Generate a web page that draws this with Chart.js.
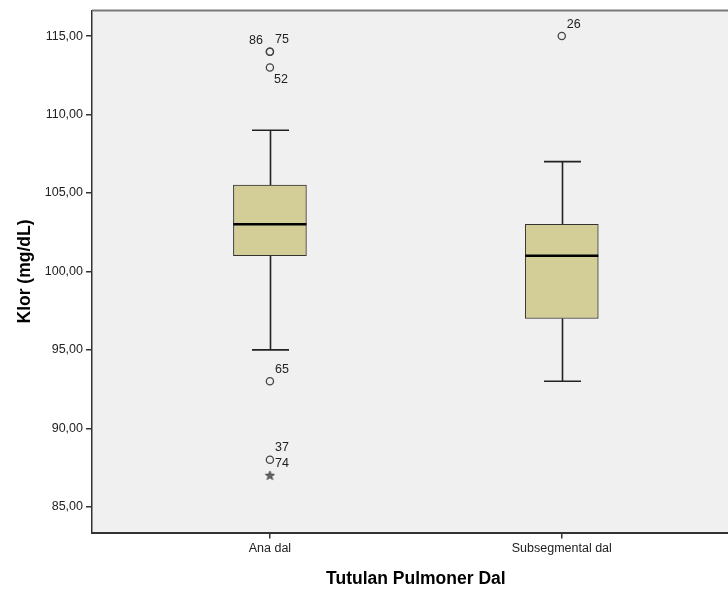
<!DOCTYPE html>
<html>
<head>
<meta charset="utf-8">
<title>Klor (mg/dL) - Tutulan Pulmoner Dal</title>
<script src="https://cdn.jsdelivr.net/npm/chart.js@4.4.1/dist/chart.umd.min.js"></script>
<style>
  html, body { margin: 0; padding: 0; background: #ffffff; overflow: hidden; width: 728px; height: 592px; }
  canvas { display: block; }
</style>
</head>
<body>
<canvas id="chart" width="745" height="592"></canvas>
<script>
// ---- Data ----
const categories   = ['Ana dal', 'Subsegmental dal'];
const whiskerLow   = [95, 93];
const q1           = [101, 97];
const median       = [103, 101];
const q3           = [105.5, 103];
const whiskerHigh  = [109, 107];

// outliers (circles): group index, value, case number
const outlierGroup = [0, 0, 0, 0, 0, 1];
const outlierValue = [114, 114, 113, 93, 88, 115];
const outlierCase  = ['86', '75', '52', '65', '37', '26'];

// extreme values (stars)
const extremeGroup = [0];
const extremeValue = [87];
const extremeCase  = ['74'];

const yTicks = [85, 90, 95, 100, 105, 110, 115];

// ---- Styling ----
const FONT = '"Liberation Sans", Arial, Helvetica, sans-serif';
const outlierLabelSide = ['nw', 'ne', 'se', 'ne', 'ne', 'ne'];
const extremeLabelSide = ['ne'];
const labelOffset = { ne: [12, -12], nw: [-14, -11], se: [11, 12] };

const fmtComma = v => Number(v).toFixed(2).replace('.', ',');

// five-pointed star marker for extreme values
function makeStar() {
  const c = document.createElement('canvas');
  c.width = 11; c.height = 11;
  const g = c.getContext('2d');
  g.beginPath();
  for (let k = 0; k < 10; k++) {
    const r = k % 2 === 0 ? 4.8 : 1.9;
    const a = -Math.PI / 2 + k * Math.PI / 5;
    const px = 5.5 + r * Math.cos(a), py = 5.8 + r * Math.sin(a);
    if (k === 0) g.moveTo(px, py); else g.lineTo(px, py);
  }
  g.closePath();
  g.fillStyle = '#666';
  g.fill();
  g.strokeStyle = '#333';
  g.lineWidth = 0.8;
  g.stroke();
  return c;
}

const boxData     = categories.map((c, i) => ({ x: i + 1, y: [q1[i], q3[i]] }));
const outlierData = outlierValue.map((v, i) => ({ x: outlierGroup[i] + 1, y: v }));
const extremeData = extremeValue.map((v, i) => ({ x: extremeGroup[i] + 1, y: v }));

// plot background and top frame line
const plotFrame = {
  id: 'plotFrame',
  beforeDraw(chart) {
    const { ctx, chartArea: a } = chart;
    ctx.save();
    ctx.fillStyle = '#f0f0f0';
    ctx.fillRect(a.left, a.top, a.right - a.left, a.bottom - a.top);
    ctx.restore();
  },
  afterDraw(chart) {
    const { ctx, chartArea: a } = chart;
    ctx.save();
    ctx.strokeStyle = '#7a7a7a';
    ctx.lineWidth = 2;
    ctx.beginPath();
    ctx.moveTo(a.left, a.top);
    ctx.lineTo(a.right, a.top);
    ctx.stroke();
    ctx.restore();
  }
};

// whiskers, caps, medians and case labels
const boxParts = {
  id: 'boxParts',
  beforeDatasetsDraw(chart) {
    const { ctx, scales: { x, y } } = chart;
    const capHalf = 18.5;
    ctx.save();
    ctx.strokeStyle = '#222';
    ctx.lineWidth = 1.6;
    categories.forEach((c, i) => {
      const px = Math.round(x.getPixelForValue(i + 1)) + 0.5;
      [[q3[i], whiskerHigh[i]], [q1[i], whiskerLow[i]]].forEach(([from, to]) => {
        const y0 = y.getPixelForValue(from), y1 = y.getPixelForValue(to);
        ctx.beginPath();
        ctx.moveTo(px, y0);
        ctx.lineTo(px, y1);
        ctx.moveTo(px - capHalf, y1);
        ctx.lineTo(px + capHalf, y1);
        ctx.stroke();
      });
    });
    ctx.restore();
  },
  afterDatasetsDraw(chart) {
    const { ctx, scales: { x, y } } = chart;
    const bars = chart.getDatasetMeta(0).data;
    ctx.save();
    ctx.strokeStyle = '#000';
    ctx.lineWidth = 2.5;
    categories.forEach((c, i) => {
      const bar = bars[i];
      const py = y.getPixelForValue(median[i]);
      ctx.beginPath();
      ctx.moveTo(bar.x - bar.width / 2, py);
      ctx.lineTo(bar.x + bar.width / 2, py);
      ctx.stroke();
    });

    ctx.fillStyle = '#222';
    ctx.font = '12.5px ' + FONT;
    ctx.textAlign = 'center';
    ctx.textBaseline = 'middle';
    const put = (g, v, txt, side) => {
      const [dx, dy] = labelOffset[side];
      ctx.fillText(txt, x.getPixelForValue(g + 1) + dx, y.getPixelForValue(v) + dy);
    };
    outlierValue.forEach((v, i) => put(outlierGroup[i], v, outlierCase[i], outlierLabelSide[i]));
    extremeValue.forEach((v, i) => put(extremeGroup[i], v, extremeCase[i], extremeLabelSide[i]));
    ctx.restore();
  }
};

new Chart(document.getElementById('chart'), {
  type: 'bar',
  data: {
    datasets: [
      {
        label: 'box',
        data: boxData,
        backgroundColor: '#d3ce98',
        borderColor: '#333',
        borderWidth: 1,
        borderSkipped: false,
        barThickness: 73,
        order: 2
      },
      {
        type: 'scatter',
        label: 'outliers',
        data: outlierData,
        pointStyle: 'circle',
        pointRadius: 3.6,
        pointBorderColor: '#444',
        pointBorderWidth: 1.3,
        pointBackgroundColor: 'rgba(0,0,0,0)',
        order: 1
      },
      {
        type: 'scatter',
        label: 'extremes',
        data: extremeData,
        pointStyle: makeStar(),
        order: 1
      }
    ]
  },
  options: {
    responsive: false,
    animation: false,
    events: [],
    layout: { padding: { top: 8, right: 2, left: 0, bottom: 0 } },
    plugins: { legend: { display: false }, tooltip: { enabled: false } },
    scales: {
      x: {
        type: 'linear',
        min: 0.3904,
        max: 2.6096,
        offset: false,
        afterBuildTicks: ax => { ax.ticks = categories.map((c, i) => ({ value: i + 1 })); },
        afterFit: ax => { ax.height = 59.5; },
        ticks: {
          callback: v => categories[v - 1] ?? '',
          color: '#222',
          font: { family: FONT, size: 12.5 },
          padding: 3,
          autoSkip: false,
          maxRotation: 0
        },
        grid: { offset: false, drawOnChartArea: false, drawTicks: true, tickLength: 6, color: '#333', lineWidth: 1.5 },
        border: { display: true, color: '#333', width: 2 },
        title: {
          display: true,
          text: 'Tutulan Pulmoner Dal',
          color: '#000',
          font: { family: FONT, size: 17.5, weight: 'bold' },
          padding: { top: 0, bottom: 2.5 }
        }
      },
      y: {
        type: 'linear',
        min: 83.36,
        max: 116.63,
        afterBuildTicks: ax => { ax.ticks = yTicks.map(v => ({ value: v })); },
        afterFit: ax => { ax.width = 92; },
        ticks: {
          callback: v => fmtComma(v),
          color: '#222',
          font: { family: FONT, size: 12.5 },
          padding: 3
        },
        grid: { drawOnChartArea: false, drawTicks: true, tickLength: 6, color: '#333', lineWidth: 1.5 },
        border: { display: true, color: '#333', width: 1.5 },
        title: {
          display: true,
          text: 'Klor (mg/dL)',
          color: '#000',
          font: { family: FONT, size: 17.5, weight: 'bold' },
          padding: { top: 14.5, bottom: 0 }
        }
      }
    }
  },
  plugins: [plotFrame, boxParts]
});
</script>
</body>
</html>
